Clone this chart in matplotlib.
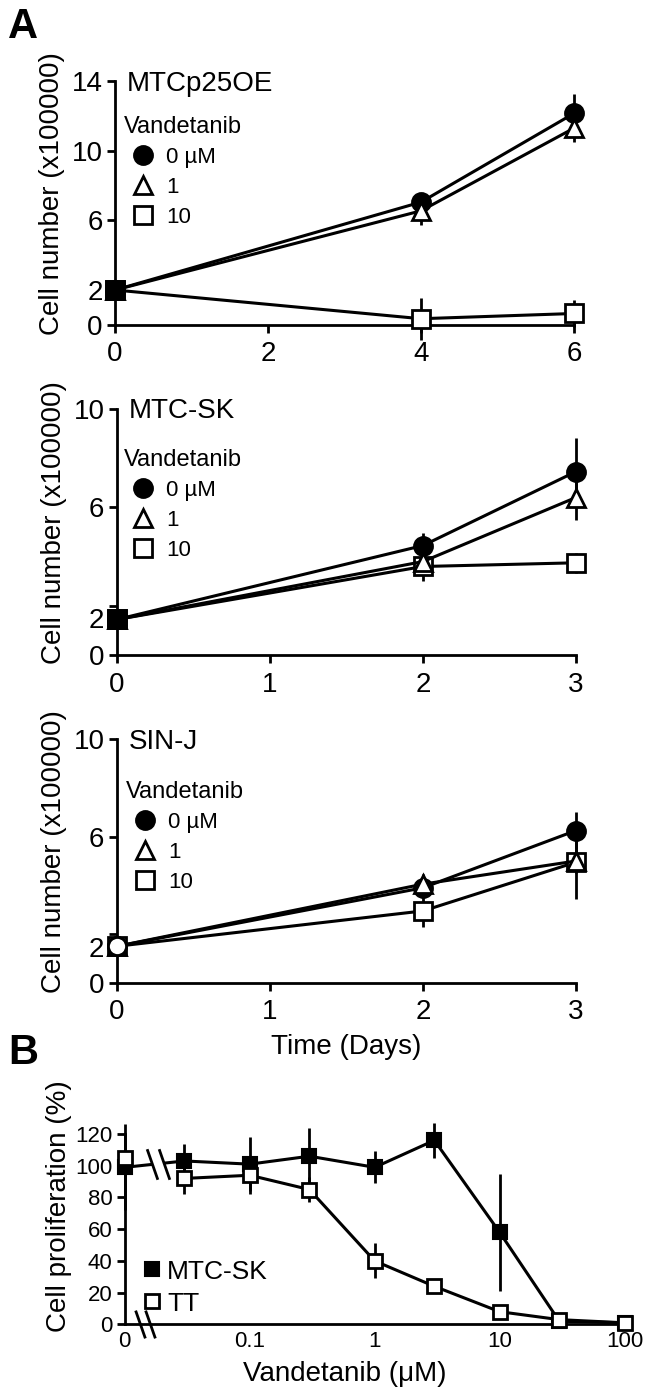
import matplotlib
matplotlib.use("Agg")
import matplotlib.pyplot as plt
from matplotlib.lines import Line2D
from matplotlib.transforms import ScaledTranslation

plt.rcParams['font.family'] = ['Liberation Sans', 'DejaVu Sans']

# --- Panel A data (cell number x100000) ---
conc_labels = ['0 µM', '1', '10']

days_p25 = [0, 4, 6]
p25_0 = [2.0, 7.05, 12.15]
p25_0_err = [0, 0.2, 1.1]
p25_1 = [2.0, 6.55, 11.3]
p25_1_err = [0, 0.8, 0.8]
p25_10 = [2.0, 0.35, 0.65]
p25_10_err = [0, 1.2, 0.8]

days_sk = [0, 2, 3]
sk_0 = [1.45, 4.45, 7.45]
sk_0_err = [0, 0.5, 1.35]
sk_1 = [1.45, 3.8, 6.4]
sk_1_err = [0, 0.3, 0.9]
sk_10 = [1.45, 3.6, 3.75]
sk_10_err = [0, 0.6, 0.4]

days_sinj = [0, 2, 3]
sinj_0 = [1.5, 3.9, 6.25]
sinj_0_err = [0, 0.3, 0.75]
sinj_1 = [1.5, 4.05, 5.0]
sinj_1_err = [0, 0.4, 0.5]
sinj_10 = [1.5, 2.95, 4.95]
sinj_10_err = [0, 0.65, 1.5]

# --- Panel B data (cell proliferation %) ---
doses = [0, 0.03, 0.1, 0.3, 1, 3, 10, 30, 100]
mtcsk = [99, 103, 101, 106, 99, 116, 58, 2, 1]
mtcsk_err = [27, 11, 17, 18, 10, 11, 37, 0, 0]
tt = [105, 92, 94, 85, 40, 24, 8, 3, 1]
tt_err = [0, 10, 12, 8, 11, 2, 2, 0, 0]

LW = 2.2
MS = 13
styles = [('o', 'black'), ('^', 'white'), ('s', 'white')]
zorders = [4, 5, 3]


def style_axes(ax, fs):
    for s in ['top', 'right']:
        ax.spines[s].set_visible(False)
    for s in ['left', 'bottom']:
        ax.spines[s].set_linewidth(2)
    ax.tick_params(width=2, length=6, labelsize=fs, pad=3)


def growth_panel(ax, days, series, errs, yticks, title, leg_anchor, day0_style, label_shift):
    for (m, fc), vals, err, z in zip(styles, series, errs, zorders):
        ax.errorbar(days, vals, yerr=err, fmt='none', ecolor='black',
                    elinewidth=2, capsize=0, zorder=z - 0.5, clip_on=False)
        ax.plot(days, vals, color='black', lw=LW, marker=m, mfc=fc, mec='black',
                mew=2, ms=MS, clip_on=False, zorder=z)
    # marker sitting on top at day 0
    m0, fc0 = day0_style
    ax.plot(days[:1], series[2][:1], ls='none', marker=m0, mfc=fc0, mec='black',
            mew=2, ms=MS, clip_on=False, zorder=6)
    ax.set_xlim(days[0], days[-1])
    ax.set_ylim(0, yticks[-1])
    ax.set_yticks(yticks)
    ax.set_xticks(range(days[0], days[-1] + 1) if days[-1] <= 3 else [0, 2, 4, 6])
    style_axes(ax, 20)
    ax.tick_params(axis='x', pad=6)
    ax.set_ylabel('Cell number (x100000)', fontsize=20)
    ax.yaxis.set_label_coords(-0.11, 0.54)
    ax.text(0.025, 0.99, title, transform=ax.transAxes, fontsize=20,
            ha='left', va='center')
    handles = [Line2D([], [], ls='none', marker=m, mfc=fc, mec='black', mew=2, ms=MS)
               for m, fc in styles]
    ax.legend(handles, conc_labels, title='Vandetanib', loc='upper left',
              bbox_to_anchor=leg_anchor, frameon=False, borderpad=0,
              borderaxespad=0, handlelength=1.7, handletextpad=0.2,
              labelspacing=0.4, fontsize=16, title_fontsize=17, alignment='left')
    if label_shift:
        lab = ax.get_yticklabels()[1]
        lab.set_transform(lab.get_transform() +
                          ScaledTranslation(0, -label_shift / 72, ax.figure.dpi_scale_trans))


fig = plt.figure(figsize=(6.5, 14), dpi=100)

ax1 = fig.add_axes([0.177, 0.768, 0.706, 0.174])
ax2 = fig.add_axes([0.180, 0.532, 0.706, 0.176])
ax3 = fig.add_axes([0.180, 0.298, 0.706, 0.174])
axb = fig.add_axes([0.192, 0.054, 0.769, 0.136])

growth_panel(ax1, days_p25, [p25_0, p25_1, p25_10], [p25_0_err, p25_1_err, p25_10_err],
             [0, 2, 6, 10, 14], 'MTCp25OE', (0.02, 0.857), ('s', 'black'), 0)
growth_panel(ax2, days_sk, [sk_0, sk_1, sk_10], [sk_0_err, sk_1_err, sk_10_err],
             [0, 2, 6, 10], 'MTC-SK', (0.015, 0.837), ('s', 'black'), 9)
growth_panel(ax3, days_sinj, [sinj_0, sinj_1, sinj_10], [sinj_0_err, sinj_1_err, sinj_10_err],
             [0, 2, 6, 10], 'SIN-J', (0.02, 0.828), ('o', 'white'), 9)
ax3.set_xlabel('Time (Days)', fontsize=20, labelpad=6)

# --- Panel B ---
zero_pos = 0.01
xpos = [d if d > 0 else zero_pos for d in doses]
axb.set_xscale('log')
axb.errorbar(xpos, mtcsk, yerr=mtcsk_err, fmt='none', ecolor='black',
             elinewidth=2, capsize=0, zorder=2, clip_on=False)
axb.errorbar(xpos, tt, yerr=tt_err, fmt='none', ecolor='black',
             elinewidth=2, capsize=0, zorder=2, clip_on=False)
axb.plot(xpos, mtcsk, color='black', lw=LW, marker='s', mfc='black', mec='black',
         mew=1.5, ms=10, clip_on=False, zorder=3)
axb.plot(xpos[1:], tt[1:], color='black', lw=LW, clip_on=False, zorder=3)
axb.plot(xpos, tt, ls='none', marker='s', mfc='white', mec='black',
         mew=2, ms=10, clip_on=False, zorder=4)
axb.set_xlim(zero_pos, 100)
axb.set_ylim(0, 120)
axb.set_yticks(range(0, 121, 20))
axb.set_xticks([zero_pos, 0.1, 1, 10, 100])
axb.set_xticklabels(['0', '0.1', '1', '10', '100'])
axb.minorticks_off()
style_axes(axb, 16)
axb.tick_params(axis='x', length=0, pad=5)
axb.set_ylabel('Cell proliferation (%)', fontsize=20)
axb.yaxis.set_label_coords(-0.105, 0.62)
axb.set_xlabel('Vandetanib (μM)', fontsize=20)
axb.xaxis.set_label_coords(0.44, -0.19)

# axis break and line break marks
slash = [(-0.35, 1), (0.35, -1)]
axb.plot([0.0132, 0.0158], [0, 0], ls='none', marker=slash, ms=20, mew=2,
         color='black', clip_on=False, zorder=5)
axb.plot([0.0185], [101], ls='none', marker=slash, ms=22, mew=9,
         color='white', clip_on=False, zorder=5)
axb.plot([0.0165, 0.0205], [101, 101], ls='none', marker=slash, ms=22, mew=2,
         color='black', clip_on=False, zorder=6)

leg_handles = [Line2D([], [], ls='none', marker='s', mfc='black', mec='black', mew=1.5, ms=10),
               Line2D([], [], ls='none', marker='s', mfc='white', mec='black', mew=2, ms=10)]
axb.legend(leg_handles, ['MTC-SK', 'TT'], loc='upper left', bbox_to_anchor=(0.035, 0.34),
           frameon=False, borderpad=0, borderaxespad=0, handlelength=0.7,
           handletextpad=0.25, labelspacing=0.3, fontsize=19)

fig.text(0.012, 0.995, 'A', fontsize=30, fontweight='bold', va='top', ha='left')
fig.text(0.012, 0.262, 'B', fontsize=30, fontweight='bold', va='top', ha='left')

fig.savefig('out.png', dpi=100)
